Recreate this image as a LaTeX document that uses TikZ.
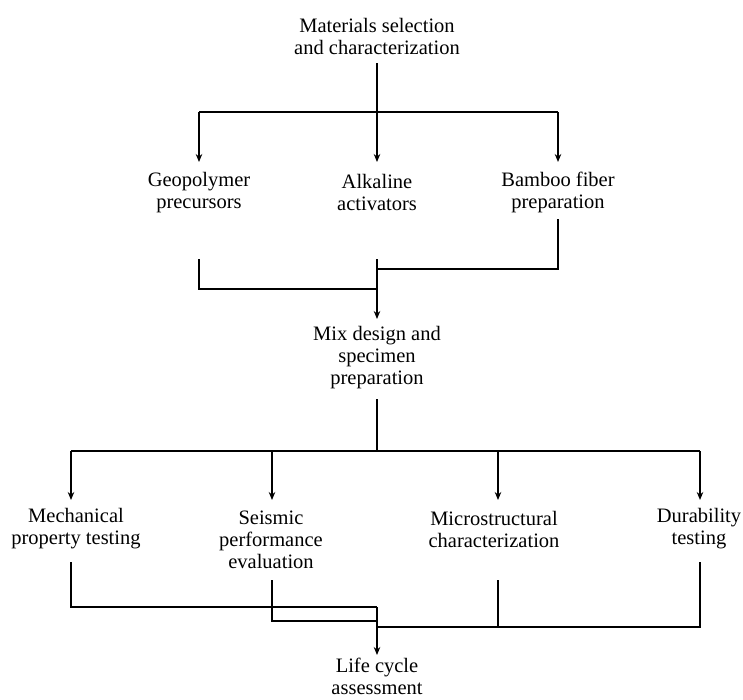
\documentclass[tikz,border=0pt]{standalone}
\usepackage{fontspec}
\setmainfont{Liberation Serif}
\usetikzlibrary{arrows.meta}
\begin{document}
\begin{tikzpicture}[x=1pt,y=-1pt,
  lbl/.style={font=\fontsize{20.5}{22}\selectfont, align=center, inner sep=0pt},
  ln/.style={line width=1.2pt},
  arr/.style={ln,-{Stealth[length=8pt,width=6.5pt]}}]
\useasboundingbox (0,0) rectangle (743,699);
\fill[white] (0,0) rectangle (743,699);
% nodes
\node[lbl] (top) at (377,36) {Materials selection\\and characterization};
\node[lbl] (geo) at (199,192.5) {Geopolymer\\precursors};
\node[lbl] (alk) at (377,192.5) {Alkaline\\activators};
\node[lbl] (bam) at (558,192.5) {Bamboo fiber\\preparation};
\node[lbl] (mix) at (377,357.5) {Mix design and\\specimen\\preparation};
\node[lbl] (mech) at (76,529) {Mechanical\\property testing};
\node[lbl] (seis) at (271,540) {Seismic\\performance\\evaluation};
\node[lbl] (micro) at (494,529) {Microstructural\\characterization};
\node[lbl] (dur) at (699,529) {Durability\\testing};
\node[lbl] (lca) at (377,676) {Life cycle\\assessment};
% stage 1
\coordinate (s1) at (377,63);
\coordinate (b1) at (377,112);
\coordinate (r1) at (377,162);
\coordinate (gx) at (199,0);
\coordinate (bx) at (558,0);
\draw[ln] (s1) -- (b1);
\draw[ln] (gx |- b1) -- (bx |- b1);
\draw[arr] (gx |- b1) -- (gx |- r1);
\draw[arr] (b1) -- (r1);
\draw[arr] (bx |- b1) -- (bx |- r1);
% stage 2
\coordinate (g2) at (199,259);
\coordinate (c2) at (377,259);
\coordinate (bm2) at (558,219);
\coordinate (j2a) at (377,269);
\coordinate (j2b) at (377,289);
\coordinate (t2) at (377,319);
\draw[ln] (bm2) |- (j2a);
\draw[ln] (g2) |- (j2b);
\draw[arr] (c2) -- (t2);
% stage 3
\coordinate (m3) at (377,399);
\coordinate (b3) at (377,451);
\coordinate (r3) at (377,500);
\coordinate (x1) at (71,0);
\coordinate (x2) at (272,0);
\coordinate (x3) at (498,0);
\coordinate (x4) at (700,0);
\draw[ln] (m3) -- (b3);
\draw[ln] (x1 |- b3) -- (x4 |- b3);
\draw[arr] (x1 |- b3) -- (x1 |- r3);
\draw[arr] (x2 |- b3) -- (x2 |- r3);
\draw[arr] (x3 |- b3) -- (x3 |- r3);
\draw[arr] (x4 |- b3) -- (x4 |- r3);
% stage 4
\coordinate (ja) at (377,607);
\coordinate (jb) at (377,621);
\coordinate (jc) at (377,627);
\coordinate (t4) at (377,655);
\coordinate (e1) at (71,562);
\coordinate (e2) at (272,580);
\coordinate (e3) at (498,580);
\coordinate (e4) at (700,562);
\draw[ln] (e1) |- (ja);
\draw[ln] (e2) |- (jb);
\draw[ln] (e3) -- (e3 |- jc);
\draw[ln] (e4) |- (jc);
\draw[arr] (ja) -- (t4);
\end{tikzpicture}
\end{document}
